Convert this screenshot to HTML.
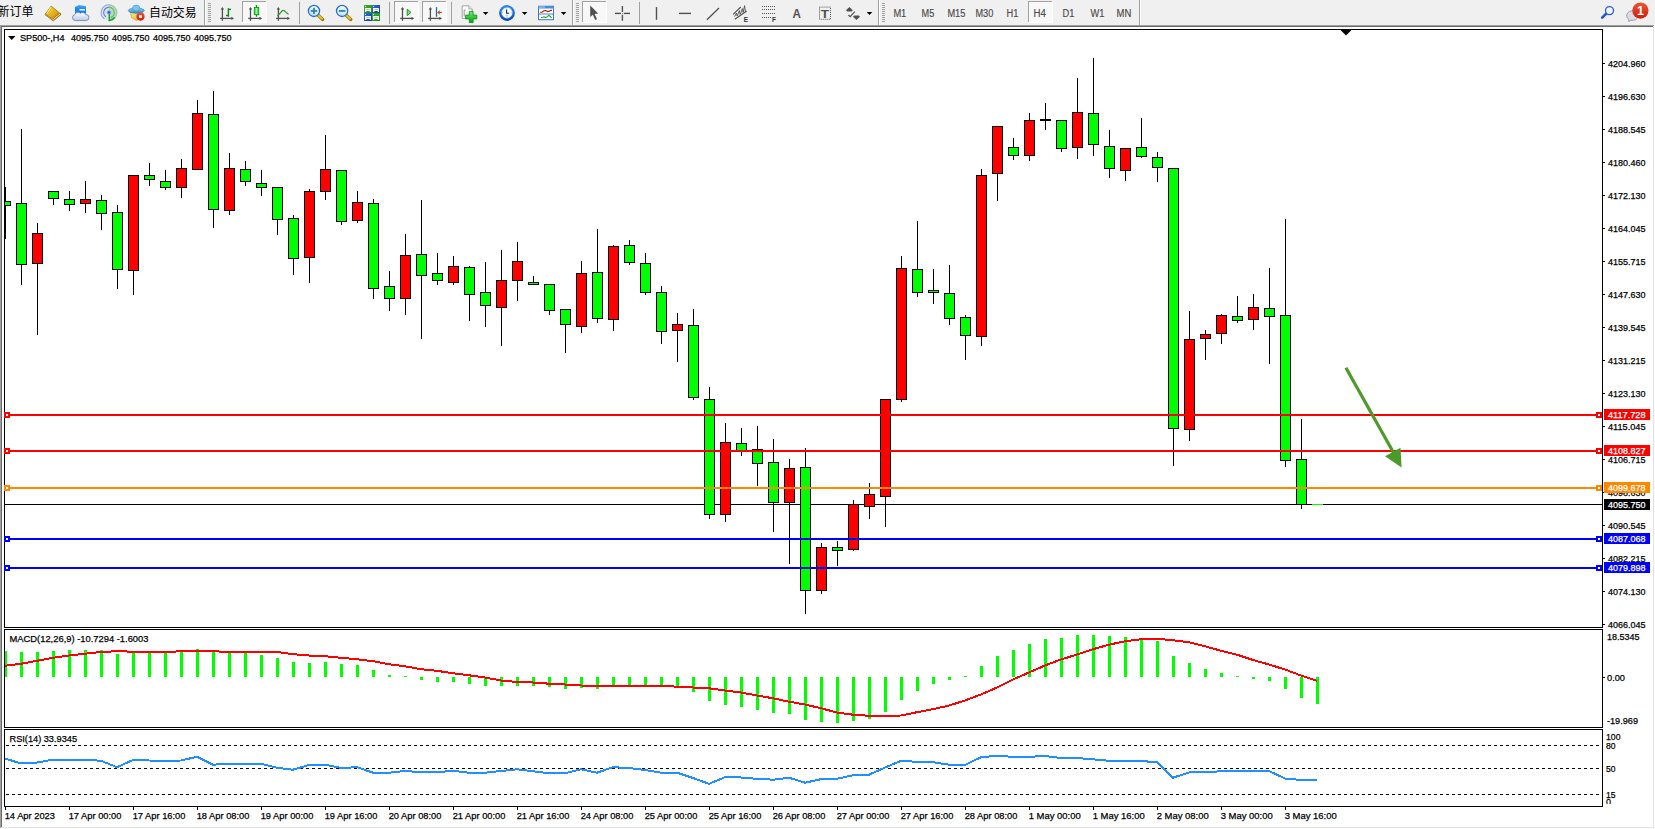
<!DOCTYPE html>
<html lang="zh"><head><meta charset="utf-8"><title>SP500-,H4</title>
<style>html,body{margin:0;padding:0;background:#fff;overflow:hidden}svg{display:block}text{font-family:'Liberation Sans','Noto Sans CJK SC',sans-serif;}</style></head><body>
<svg width="1655" height="829" viewBox="0 0 1655 829">
<rect x="0" y="0" width="1655" height="829" fill="#fff"/>
<rect x="0" y="0" width="1655" height="25" fill="#f0f0f0"/>
<g shape-rendering="crispEdges">
<rect x="0" y="25" width="1655" height="1" fill="#a0a0a0"/>
<rect x="0" y="25" width="1" height="804" fill="#a0a0a0"/>
<rect x="1" y="26" width="1653" height="1" fill="#696969"/>
<rect x="1" y="26" width="1" height="801" fill="#696969"/>
<rect x="1653" y="26" width="1" height="802" fill="#e3e3e3"/>
<rect x="1" y="827" width="1653" height="1" fill="#e3e3e3"/>
<rect x="1654" y="25" width="1" height="804" fill="#fff"/>
<rect x="0" y="828" width="1655" height="1" fill="#fff"/>
<rect x="4" y="29" width="1599" height="1" fill="#000"/>
<rect x="4" y="627" width="1599" height="1" fill="#000"/>
<rect x="4" y="29" width="1" height="599" fill="#000"/>
<rect x="1602" y="29" width="1" height="599" fill="#000"/>
<rect x="4" y="629" width="1599" height="1" fill="#000"/>
<rect x="4" y="727" width="1599" height="1" fill="#000"/>
<rect x="4" y="629" width="1" height="99" fill="#000"/>
<rect x="1602" y="629" width="1" height="99" fill="#000"/>
<rect x="4" y="729" width="1599" height="1" fill="#000"/>
<rect x="4" y="806" width="1599" height="1" fill="#000"/>
<rect x="4" y="729" width="1" height="78" fill="#000"/>
<rect x="1602" y="729" width="1" height="78" fill="#000"/>
</g>
<defs><clipPath id="cm"><rect x="5" y="30" width="1597" height="597"/></clipPath><clipPath id="cd"><rect x="5" y="630" width="1597" height="97"/></clipPath><clipPath id="cr"><rect x="5" y="730" width="1597" height="76"/></clipPath></defs>
<g shape-rendering="crispEdges" clip-path="url(#cm)">
<rect x="5" y="504" width="1597" height="1" fill="#000"/>
<rect x="5" y="187" width="1" height="52" fill="#000"/>
<rect x="0" y="201" width="11" height="5" fill="#000"/>
<rect x="1" y="202" width="9" height="3" fill="#00ff00"/>
<rect x="21" y="129" width="1" height="156" fill="#000"/>
<rect x="16" y="203" width="11" height="62" fill="#000"/>
<rect x="17" y="204" width="9" height="60" fill="#00ff00"/>
<rect x="37" y="223" width="1" height="112" fill="#000"/>
<rect x="32" y="233" width="11" height="31" fill="#000"/>
<rect x="33" y="234" width="9" height="29" fill="#ff0000"/>
<rect x="53" y="191" width="1" height="14" fill="#000"/>
<rect x="48" y="191" width="11" height="8" fill="#000"/>
<rect x="49" y="192" width="9" height="6" fill="#00ff00"/>
<rect x="69" y="191" width="1" height="20" fill="#000"/>
<rect x="64" y="199" width="11" height="6" fill="#000"/>
<rect x="65" y="200" width="9" height="4" fill="#00ff00"/>
<rect x="85" y="181" width="1" height="32" fill="#000"/>
<rect x="80" y="199" width="11" height="5" fill="#000"/>
<rect x="81" y="200" width="9" height="3" fill="#ff0000"/>
<rect x="101" y="195" width="1" height="35" fill="#000"/>
<rect x="96" y="200" width="11" height="14" fill="#000"/>
<rect x="97" y="201" width="9" height="12" fill="#00ff00"/>
<rect x="117" y="205" width="1" height="84" fill="#000"/>
<rect x="112" y="212" width="11" height="58" fill="#000"/>
<rect x="113" y="213" width="9" height="56" fill="#00ff00"/>
<rect x="133" y="175" width="1" height="120" fill="#000"/>
<rect x="128" y="175" width="11" height="96" fill="#000"/>
<rect x="129" y="176" width="9" height="94" fill="#ff0000"/>
<rect x="149" y="163" width="1" height="23" fill="#000"/>
<rect x="144" y="175" width="11" height="5" fill="#000"/>
<rect x="145" y="176" width="9" height="3" fill="#00ff00"/>
<rect x="165" y="170" width="1" height="20" fill="#000"/>
<rect x="160" y="181" width="11" height="7" fill="#000"/>
<rect x="161" y="182" width="9" height="5" fill="#00ff00"/>
<rect x="181" y="159" width="1" height="39" fill="#000"/>
<rect x="176" y="168" width="11" height="20" fill="#000"/>
<rect x="177" y="169" width="9" height="18" fill="#ff0000"/>
<rect x="197" y="100" width="1" height="70" fill="#000"/>
<rect x="192" y="113" width="11" height="57" fill="#000"/>
<rect x="193" y="114" width="9" height="55" fill="#ff0000"/>
<rect x="213" y="91" width="1" height="137" fill="#000"/>
<rect x="208" y="114" width="11" height="96" fill="#000"/>
<rect x="209" y="115" width="9" height="94" fill="#00ff00"/>
<rect x="229" y="153" width="1" height="62" fill="#000"/>
<rect x="224" y="168" width="11" height="43" fill="#000"/>
<rect x="225" y="169" width="9" height="41" fill="#ff0000"/>
<rect x="245" y="161" width="1" height="25" fill="#000"/>
<rect x="240" y="169" width="11" height="13" fill="#000"/>
<rect x="241" y="170" width="9" height="11" fill="#00ff00"/>
<rect x="261" y="170" width="1" height="26" fill="#000"/>
<rect x="256" y="183" width="11" height="5" fill="#000"/>
<rect x="257" y="184" width="9" height="3" fill="#00ff00"/>
<rect x="277" y="187" width="1" height="48" fill="#000"/>
<rect x="272" y="187" width="11" height="33" fill="#000"/>
<rect x="273" y="188" width="9" height="31" fill="#00ff00"/>
<rect x="293" y="215" width="1" height="60" fill="#000"/>
<rect x="288" y="218" width="11" height="41" fill="#000"/>
<rect x="289" y="219" width="9" height="39" fill="#00ff00"/>
<rect x="309" y="189" width="1" height="94" fill="#000"/>
<rect x="304" y="191" width="11" height="67" fill="#000"/>
<rect x="305" y="192" width="9" height="65" fill="#ff0000"/>
<rect x="325" y="135" width="1" height="65" fill="#000"/>
<rect x="320" y="169" width="11" height="23" fill="#000"/>
<rect x="321" y="170" width="9" height="21" fill="#ff0000"/>
<rect x="341" y="170" width="1" height="55" fill="#000"/>
<rect x="336" y="170" width="11" height="52" fill="#000"/>
<rect x="337" y="171" width="9" height="50" fill="#00ff00"/>
<rect x="357" y="191" width="1" height="32" fill="#000"/>
<rect x="352" y="202" width="11" height="19" fill="#000"/>
<rect x="353" y="203" width="9" height="17" fill="#ff0000"/>
<rect x="373" y="199" width="1" height="100" fill="#000"/>
<rect x="368" y="203" width="11" height="86" fill="#000"/>
<rect x="369" y="204" width="9" height="84" fill="#00ff00"/>
<rect x="389" y="271" width="1" height="40" fill="#000"/>
<rect x="384" y="286" width="11" height="13" fill="#000"/>
<rect x="385" y="287" width="9" height="11" fill="#00ff00"/>
<rect x="405" y="234" width="1" height="81" fill="#000"/>
<rect x="400" y="255" width="11" height="44" fill="#000"/>
<rect x="401" y="256" width="9" height="42" fill="#ff0000"/>
<rect x="421" y="200" width="1" height="139" fill="#000"/>
<rect x="416" y="254" width="11" height="22" fill="#000"/>
<rect x="417" y="255" width="9" height="20" fill="#00ff00"/>
<rect x="437" y="253" width="1" height="32" fill="#000"/>
<rect x="432" y="273" width="11" height="8" fill="#000"/>
<rect x="433" y="274" width="9" height="6" fill="#00ff00"/>
<rect x="453" y="256" width="1" height="29" fill="#000"/>
<rect x="448" y="266" width="11" height="17" fill="#000"/>
<rect x="449" y="267" width="9" height="15" fill="#ff0000"/>
<rect x="469" y="266" width="1" height="55" fill="#000"/>
<rect x="464" y="267" width="11" height="28" fill="#000"/>
<rect x="465" y="268" width="9" height="26" fill="#00ff00"/>
<rect x="485" y="262" width="1" height="65" fill="#000"/>
<rect x="480" y="292" width="11" height="14" fill="#000"/>
<rect x="481" y="293" width="9" height="12" fill="#00ff00"/>
<rect x="501" y="250" width="1" height="96" fill="#000"/>
<rect x="496" y="280" width="11" height="28" fill="#000"/>
<rect x="497" y="281" width="9" height="26" fill="#ff0000"/>
<rect x="517" y="242" width="1" height="59" fill="#000"/>
<rect x="512" y="261" width="11" height="20" fill="#000"/>
<rect x="513" y="262" width="9" height="18" fill="#ff0000"/>
<rect x="533" y="276" width="1" height="9" fill="#000"/>
<rect x="528" y="282" width="11" height="3" fill="#000"/>
<rect x="529" y="283" width="9" height="1" fill="#00ff00"/>
<rect x="549" y="284" width="1" height="31" fill="#000"/>
<rect x="544" y="284" width="11" height="27" fill="#000"/>
<rect x="545" y="285" width="9" height="25" fill="#00ff00"/>
<rect x="565" y="309" width="1" height="44" fill="#000"/>
<rect x="560" y="309" width="11" height="16" fill="#000"/>
<rect x="561" y="310" width="9" height="14" fill="#00ff00"/>
<rect x="581" y="261" width="1" height="72" fill="#000"/>
<rect x="576" y="273" width="11" height="54" fill="#000"/>
<rect x="577" y="274" width="9" height="52" fill="#ff0000"/>
<rect x="597" y="229" width="1" height="94" fill="#000"/>
<rect x="592" y="272" width="11" height="47" fill="#000"/>
<rect x="593" y="273" width="9" height="45" fill="#00ff00"/>
<rect x="613" y="245" width="1" height="86" fill="#000"/>
<rect x="608" y="246" width="11" height="74" fill="#000"/>
<rect x="609" y="247" width="9" height="72" fill="#ff0000"/>
<rect x="629" y="240" width="1" height="25" fill="#000"/>
<rect x="624" y="245" width="11" height="18" fill="#000"/>
<rect x="625" y="246" width="9" height="16" fill="#00ff00"/>
<rect x="645" y="253" width="1" height="42" fill="#000"/>
<rect x="640" y="263" width="11" height="30" fill="#000"/>
<rect x="641" y="264" width="9" height="28" fill="#00ff00"/>
<rect x="661" y="286" width="1" height="58" fill="#000"/>
<rect x="656" y="292" width="11" height="40" fill="#000"/>
<rect x="657" y="293" width="9" height="38" fill="#00ff00"/>
<rect x="677" y="313" width="1" height="49" fill="#000"/>
<rect x="672" y="324" width="11" height="7" fill="#000"/>
<rect x="673" y="325" width="9" height="5" fill="#ff0000"/>
<rect x="693" y="309" width="1" height="91" fill="#000"/>
<rect x="688" y="325" width="11" height="73" fill="#000"/>
<rect x="689" y="326" width="9" height="71" fill="#00ff00"/>
<rect x="709" y="387" width="1" height="132" fill="#000"/>
<rect x="704" y="399" width="11" height="116" fill="#000"/>
<rect x="705" y="400" width="9" height="114" fill="#00ff00"/>
<rect x="725" y="423" width="1" height="99" fill="#000"/>
<rect x="720" y="442" width="11" height="73" fill="#000"/>
<rect x="721" y="443" width="9" height="71" fill="#ff0000"/>
<rect x="741" y="428" width="1" height="28" fill="#000"/>
<rect x="736" y="443" width="11" height="9" fill="#000"/>
<rect x="737" y="444" width="9" height="7" fill="#00ff00"/>
<rect x="757" y="426" width="1" height="60" fill="#000"/>
<rect x="752" y="449" width="11" height="15" fill="#000"/>
<rect x="753" y="450" width="9" height="13" fill="#00ff00"/>
<rect x="773" y="439" width="1" height="93" fill="#000"/>
<rect x="768" y="462" width="11" height="41" fill="#000"/>
<rect x="769" y="463" width="9" height="39" fill="#00ff00"/>
<rect x="789" y="459" width="1" height="105" fill="#000"/>
<rect x="784" y="468" width="11" height="35" fill="#000"/>
<rect x="785" y="469" width="9" height="33" fill="#ff0000"/>
<rect x="805" y="448" width="1" height="166" fill="#000"/>
<rect x="800" y="467" width="11" height="124" fill="#000"/>
<rect x="801" y="468" width="9" height="122" fill="#00ff00"/>
<rect x="821" y="543" width="1" height="51" fill="#000"/>
<rect x="816" y="547" width="11" height="44" fill="#000"/>
<rect x="817" y="548" width="9" height="42" fill="#ff0000"/>
<rect x="837" y="541" width="1" height="25" fill="#000"/>
<rect x="832" y="547" width="11" height="4" fill="#000"/>
<rect x="833" y="548" width="9" height="2" fill="#00ff00"/>
<rect x="853" y="500" width="1" height="51" fill="#000"/>
<rect x="848" y="504" width="11" height="46" fill="#000"/>
<rect x="849" y="505" width="9" height="44" fill="#ff0000"/>
<rect x="869" y="483" width="1" height="36" fill="#000"/>
<rect x="864" y="494" width="11" height="13" fill="#000"/>
<rect x="865" y="495" width="9" height="11" fill="#ff0000"/>
<rect x="885" y="399" width="1" height="128" fill="#000"/>
<rect x="880" y="399" width="11" height="98" fill="#000"/>
<rect x="881" y="400" width="9" height="96" fill="#ff0000"/>
<rect x="901" y="256" width="1" height="146" fill="#000"/>
<rect x="896" y="268" width="11" height="132" fill="#000"/>
<rect x="897" y="269" width="9" height="130" fill="#ff0000"/>
<rect x="917" y="221" width="1" height="76" fill="#000"/>
<rect x="912" y="269" width="11" height="24" fill="#000"/>
<rect x="913" y="270" width="9" height="22" fill="#00ff00"/>
<rect x="933" y="269" width="1" height="35" fill="#000"/>
<rect x="928" y="290" width="11" height="3" fill="#000"/>
<rect x="929" y="291" width="9" height="1" fill="#00ff00"/>
<rect x="949" y="265" width="1" height="60" fill="#000"/>
<rect x="944" y="293" width="11" height="26" fill="#000"/>
<rect x="945" y="294" width="9" height="24" fill="#00ff00"/>
<rect x="965" y="315" width="1" height="45" fill="#000"/>
<rect x="960" y="317" width="11" height="19" fill="#000"/>
<rect x="961" y="318" width="9" height="17" fill="#00ff00"/>
<rect x="981" y="169" width="1" height="177" fill="#000"/>
<rect x="976" y="175" width="11" height="162" fill="#000"/>
<rect x="977" y="176" width="9" height="160" fill="#ff0000"/>
<rect x="997" y="126" width="1" height="75" fill="#000"/>
<rect x="992" y="126" width="11" height="48" fill="#000"/>
<rect x="993" y="127" width="9" height="46" fill="#ff0000"/>
<rect x="1013" y="138" width="1" height="22" fill="#000"/>
<rect x="1008" y="147" width="11" height="9" fill="#000"/>
<rect x="1009" y="148" width="9" height="7" fill="#00ff00"/>
<rect x="1029" y="113" width="1" height="48" fill="#000"/>
<rect x="1024" y="120" width="11" height="36" fill="#000"/>
<rect x="1025" y="121" width="9" height="34" fill="#ff0000"/>
<rect x="1045" y="103" width="1" height="27" fill="#000"/>
<rect x="1040" y="119" width="11" height="2" fill="#000"/>
<rect x="1061" y="120" width="1" height="32" fill="#000"/>
<rect x="1056" y="120" width="11" height="29" fill="#000"/>
<rect x="1057" y="121" width="9" height="27" fill="#00ff00"/>
<rect x="1077" y="78" width="1" height="81" fill="#000"/>
<rect x="1072" y="112" width="11" height="36" fill="#000"/>
<rect x="1073" y="113" width="9" height="34" fill="#ff0000"/>
<rect x="1093" y="58" width="1" height="98" fill="#000"/>
<rect x="1088" y="113" width="11" height="32" fill="#000"/>
<rect x="1089" y="114" width="9" height="30" fill="#00ff00"/>
<rect x="1109" y="130" width="1" height="48" fill="#000"/>
<rect x="1104" y="146" width="11" height="23" fill="#000"/>
<rect x="1105" y="147" width="9" height="21" fill="#00ff00"/>
<rect x="1125" y="148" width="1" height="33" fill="#000"/>
<rect x="1120" y="148" width="11" height="23" fill="#000"/>
<rect x="1121" y="149" width="9" height="21" fill="#ff0000"/>
<rect x="1141" y="118" width="1" height="40" fill="#000"/>
<rect x="1136" y="147" width="11" height="10" fill="#000"/>
<rect x="1137" y="148" width="9" height="8" fill="#00ff00"/>
<rect x="1157" y="152" width="1" height="30" fill="#000"/>
<rect x="1152" y="157" width="11" height="11" fill="#000"/>
<rect x="1153" y="158" width="9" height="9" fill="#00ff00"/>
<rect x="1173" y="168" width="1" height="298" fill="#000"/>
<rect x="1168" y="168" width="11" height="261" fill="#000"/>
<rect x="1169" y="169" width="9" height="259" fill="#00ff00"/>
<rect x="1189" y="311" width="1" height="130" fill="#000"/>
<rect x="1184" y="339" width="11" height="91" fill="#000"/>
<rect x="1185" y="340" width="9" height="89" fill="#ff0000"/>
<rect x="1205" y="330" width="1" height="30" fill="#000"/>
<rect x="1200" y="334" width="11" height="5" fill="#000"/>
<rect x="1201" y="335" width="9" height="3" fill="#ff0000"/>
<rect x="1221" y="314" width="1" height="30" fill="#000"/>
<rect x="1216" y="315" width="11" height="19" fill="#000"/>
<rect x="1217" y="316" width="9" height="17" fill="#ff0000"/>
<rect x="1237" y="296" width="1" height="27" fill="#000"/>
<rect x="1232" y="316" width="11" height="5" fill="#000"/>
<rect x="1233" y="317" width="9" height="3" fill="#00ff00"/>
<rect x="1253" y="294" width="1" height="36" fill="#000"/>
<rect x="1248" y="307" width="11" height="13" fill="#000"/>
<rect x="1249" y="308" width="9" height="11" fill="#ff0000"/>
<rect x="1269" y="268" width="1" height="96" fill="#000"/>
<rect x="1264" y="308" width="11" height="9" fill="#000"/>
<rect x="1265" y="309" width="9" height="7" fill="#00ff00"/>
<rect x="1285" y="219" width="1" height="248" fill="#000"/>
<rect x="1280" y="315" width="11" height="146" fill="#000"/>
<rect x="1281" y="316" width="9" height="144" fill="#00ff00"/>
<rect x="1301" y="419" width="1" height="90" fill="#000"/>
<rect x="1296" y="459" width="11" height="46" fill="#000"/>
<rect x="1297" y="460" width="9" height="44" fill="#00ff00"/>
<rect x="1312" y="504" width="11" height="1" fill="#00ff00"/>
<rect x="5" y="414" width="1597" height="2" fill="#ff0000"/>
<rect x="5" y="450" width="1597" height="2" fill="#ff0000"/>
<rect x="5" y="487" width="1597" height="2" fill="#ff8800"/>
<rect x="5" y="538" width="1597" height="2" fill="#0000ff"/>
<rect x="5" y="567" width="1597" height="2" fill="#0000ff"/>
</g>
<g shape-rendering="crispEdges">
<rect x="4" y="412" width="6" height="6" fill="#ff0000"/>
<rect x="6" y="414" width="2" height="2" fill="#fff"/>
<rect x="1596" y="412" width="6" height="6" fill="#ff0000"/>
<rect x="1598" y="414" width="2" height="2" fill="#fff"/>
<rect x="4" y="448" width="6" height="6" fill="#ff0000"/>
<rect x="6" y="450" width="2" height="2" fill="#fff"/>
<rect x="1596" y="448" width="6" height="6" fill="#ff0000"/>
<rect x="1598" y="450" width="2" height="2" fill="#fff"/>
<rect x="4" y="485" width="6" height="6" fill="#ff8800"/>
<rect x="6" y="487" width="2" height="2" fill="#fff"/>
<rect x="1596" y="485" width="6" height="6" fill="#ff8800"/>
<rect x="1598" y="487" width="2" height="2" fill="#fff"/>
<rect x="4" y="536" width="6" height="6" fill="#0000ff"/>
<rect x="6" y="538" width="2" height="2" fill="#fff"/>
<rect x="1596" y="536" width="6" height="6" fill="#0000ff"/>
<rect x="1598" y="538" width="2" height="2" fill="#fff"/>
<rect x="4" y="565" width="6" height="6" fill="#0000ff"/>
<rect x="6" y="567" width="2" height="2" fill="#fff"/>
<rect x="1596" y="565" width="6" height="6" fill="#0000ff"/>
<rect x="1598" y="567" width="2" height="2" fill="#fff"/>
<polygon points="1340.5,30 1351.5,30 1346,35.5" fill="#000" shape-rendering="geometricPrecision"/>
<rect x="1603" y="63" width="2" height="1" fill="#000"/>
<rect x="1603" y="96" width="2" height="1" fill="#000"/>
<rect x="1603" y="129" width="2" height="1" fill="#000"/>
<rect x="1603" y="162" width="2" height="1" fill="#000"/>
<rect x="1603" y="195" width="2" height="1" fill="#000"/>
<rect x="1603" y="228" width="2" height="1" fill="#000"/>
<rect x="1603" y="261" width="2" height="1" fill="#000"/>
<rect x="1603" y="294" width="2" height="1" fill="#000"/>
<rect x="1603" y="327" width="2" height="1" fill="#000"/>
<rect x="1603" y="360" width="2" height="1" fill="#000"/>
<rect x="1603" y="393" width="2" height="1" fill="#000"/>
<rect x="1603" y="426" width="2" height="1" fill="#000"/>
<rect x="1603" y="459" width="2" height="1" fill="#000"/>
<rect x="1603" y="492" width="2" height="1" fill="#000"/>
<rect x="1603" y="525" width="2" height="1" fill="#000"/>
<rect x="1603" y="558" width="2" height="1" fill="#000"/>
<rect x="1603" y="591" width="2" height="1" fill="#000"/>
<rect x="1603" y="624" width="2" height="1" fill="#000"/>
</g>
<text x="1608" y="67" font-size="9.5" fill="#000" stroke="#000" stroke-width="0.25" textLength="37.5" lengthAdjust="spacingAndGlyphs">4204.960</text>
<text x="1608" y="100" font-size="9.5" fill="#000" stroke="#000" stroke-width="0.25" textLength="37.5" lengthAdjust="spacingAndGlyphs">4196.630</text>
<text x="1608" y="133" font-size="9.5" fill="#000" stroke="#000" stroke-width="0.25" textLength="37.5" lengthAdjust="spacingAndGlyphs">4188.545</text>
<text x="1608" y="166" font-size="9.5" fill="#000" stroke="#000" stroke-width="0.25" textLength="37.5" lengthAdjust="spacingAndGlyphs">4180.460</text>
<text x="1608" y="199" font-size="9.5" fill="#000" stroke="#000" stroke-width="0.25" textLength="37.5" lengthAdjust="spacingAndGlyphs">4172.130</text>
<text x="1608" y="232" font-size="9.5" fill="#000" stroke="#000" stroke-width="0.25" textLength="37.5" lengthAdjust="spacingAndGlyphs">4164.045</text>
<text x="1608" y="265" font-size="9.5" fill="#000" stroke="#000" stroke-width="0.25" textLength="37.5" lengthAdjust="spacingAndGlyphs">4155.715</text>
<text x="1608" y="298" font-size="9.5" fill="#000" stroke="#000" stroke-width="0.25" textLength="37.5" lengthAdjust="spacingAndGlyphs">4147.630</text>
<text x="1608" y="331" font-size="9.5" fill="#000" stroke="#000" stroke-width="0.25" textLength="37.5" lengthAdjust="spacingAndGlyphs">4139.545</text>
<text x="1608" y="364" font-size="9.5" fill="#000" stroke="#000" stroke-width="0.25" textLength="37.5" lengthAdjust="spacingAndGlyphs">4131.215</text>
<text x="1608" y="397" font-size="9.5" fill="#000" stroke="#000" stroke-width="0.25" textLength="37.5" lengthAdjust="spacingAndGlyphs">4123.130</text>
<text x="1608" y="430" font-size="9.5" fill="#000" stroke="#000" stroke-width="0.25" textLength="37.5" lengthAdjust="spacingAndGlyphs">4115.045</text>
<text x="1608" y="463" font-size="9.5" fill="#000" stroke="#000" stroke-width="0.25" textLength="37.5" lengthAdjust="spacingAndGlyphs">4106.715</text>
<text x="1608" y="496" font-size="9.5" fill="#000" stroke="#000" stroke-width="0.25" textLength="37.5" lengthAdjust="spacingAndGlyphs">4098.630</text>
<text x="1608" y="529" font-size="9.5" fill="#000" stroke="#000" stroke-width="0.25" textLength="37.5" lengthAdjust="spacingAndGlyphs">4090.545</text>
<text x="1608" y="562" font-size="9.5" fill="#000" stroke="#000" stroke-width="0.25" textLength="37.5" lengthAdjust="spacingAndGlyphs">4082.215</text>
<text x="1608" y="595" font-size="9.5" fill="#000" stroke="#000" stroke-width="0.25" textLength="37.5" lengthAdjust="spacingAndGlyphs">4074.130</text>
<text x="1608" y="628" font-size="9.5" fill="#000" stroke="#000" stroke-width="0.25" textLength="37.5" lengthAdjust="spacingAndGlyphs">4066.045</text>
<g shape-rendering="crispEdges">
<rect x="1604" y="409" width="46" height="11" fill="#ff0000"/>
<rect x="1604" y="445" width="46" height="11" fill="#ff0000"/>
<rect x="1604" y="482" width="46" height="11" fill="#ff8800"/>
<rect x="1604" y="533" width="46" height="11" fill="#0000ff"/>
<rect x="1604" y="562" width="46" height="11" fill="#0000ff"/>
<rect x="1604" y="499" width="46" height="11" fill="#000"/>
</g>
<text x="1608" y="418" font-size="9.5" fill="#fff" stroke="#fff" stroke-width="0.25" textLength="37.5" lengthAdjust="spacingAndGlyphs">4117.728</text>
<text x="1608" y="454" font-size="9.5" fill="#fff" stroke="#fff" stroke-width="0.25" textLength="37.5" lengthAdjust="spacingAndGlyphs">4108.827</text>
<text x="1608" y="491" font-size="9.5" fill="#fff" stroke="#fff" stroke-width="0.25" textLength="37.5" lengthAdjust="spacingAndGlyphs">4099.678</text>
<text x="1608" y="542" font-size="9.5" fill="#fff" stroke="#fff" stroke-width="0.25" textLength="37.5" lengthAdjust="spacingAndGlyphs">4087.068</text>
<text x="1608" y="571" font-size="9.5" fill="#fff" stroke="#fff" stroke-width="0.25" textLength="37.5" lengthAdjust="spacingAndGlyphs">4079.898</text>
<text x="1608" y="508" font-size="9.5" fill="#fff" stroke="#fff" stroke-width="0.25" textLength="37.5" lengthAdjust="spacingAndGlyphs">4095.750</text>
<polygon points="8,36 15.5,36 11.75,40" fill="#000"/>
<text x="20" y="40.6" font-size="9.5" fill="#000" stroke="#000" stroke-width="0.25" textLength="44.5" lengthAdjust="spacingAndGlyphs">SP500-,H4</text>
<text x="71" y="40.6" font-size="9.5" fill="#000" stroke="#000" stroke-width="0.25" textLength="37.5" lengthAdjust="spacingAndGlyphs">4095.750</text>
<text x="112" y="40.6" font-size="9.5" fill="#000" stroke="#000" stroke-width="0.25" textLength="37.5" lengthAdjust="spacingAndGlyphs">4095.750</text>
<text x="153" y="40.6" font-size="9.5" fill="#000" stroke="#000" stroke-width="0.25" textLength="37.5" lengthAdjust="spacingAndGlyphs">4095.750</text>
<text x="194" y="40.6" font-size="9.5" fill="#000" stroke="#000" stroke-width="0.25" textLength="37.5" lengthAdjust="spacingAndGlyphs">4095.750</text>
<g fill="#4c9a2a" stroke="none">
<line x1="1345.9" y1="367.7" x2="1394" y2="453.5" stroke="#4c9a2a" stroke-width="3.2"/>
<polygon points="1401.6,467.6 1385,456.3 1400.5,447.8"/>
</g>
<g shape-rendering="crispEdges" clip-path="url(#cd)">
<rect x="4" y="651" width="3" height="26" fill="#00ff00"/>
<rect x="20" y="652" width="3" height="25" fill="#00ff00"/>
<rect x="36" y="652" width="3" height="25" fill="#00ff00"/>
<rect x="52" y="651" width="3" height="26" fill="#00ff00"/>
<rect x="68" y="650" width="3" height="27" fill="#00ff00"/>
<rect x="84" y="650" width="3" height="27" fill="#00ff00"/>
<rect x="100" y="650" width="3" height="27" fill="#00ff00"/>
<rect x="116" y="654" width="3" height="23" fill="#00ff00"/>
<rect x="132" y="653" width="3" height="24" fill="#00ff00"/>
<rect x="148" y="653" width="3" height="24" fill="#00ff00"/>
<rect x="164" y="653" width="3" height="24" fill="#00ff00"/>
<rect x="180" y="652" width="3" height="25" fill="#00ff00"/>
<rect x="196" y="649" width="3" height="28" fill="#00ff00"/>
<rect x="212" y="652" width="3" height="25" fill="#00ff00"/>
<rect x="228" y="653" width="3" height="24" fill="#00ff00"/>
<rect x="244" y="653" width="3" height="24" fill="#00ff00"/>
<rect x="260" y="655" width="3" height="22" fill="#00ff00"/>
<rect x="276" y="658" width="3" height="19" fill="#00ff00"/>
<rect x="292" y="662" width="3" height="15" fill="#00ff00"/>
<rect x="308" y="663" width="3" height="14" fill="#00ff00"/>
<rect x="324" y="662" width="3" height="15" fill="#00ff00"/>
<rect x="340" y="664" width="3" height="13" fill="#00ff00"/>
<rect x="356" y="665" width="3" height="12" fill="#00ff00"/>
<rect x="372" y="670" width="3" height="7" fill="#00ff00"/>
<rect x="388" y="675" width="3" height="2" fill="#00ff00"/>
<rect x="404" y="676" width="3" height="1" fill="#00ff00"/>
<rect x="420" y="677" width="3" height="3" fill="#00ff00"/>
<rect x="436" y="677" width="3" height="5" fill="#00ff00"/>
<rect x="452" y="677" width="3" height="5" fill="#00ff00"/>
<rect x="468" y="677" width="3" height="7" fill="#00ff00"/>
<rect x="484" y="677" width="3" height="9" fill="#00ff00"/>
<rect x="500" y="677" width="3" height="9" fill="#00ff00"/>
<rect x="516" y="677" width="3" height="9" fill="#00ff00"/>
<rect x="532" y="677" width="3" height="9" fill="#00ff00"/>
<rect x="548" y="677" width="3" height="10" fill="#00ff00"/>
<rect x="564" y="677" width="3" height="12" fill="#00ff00"/>
<rect x="580" y="677" width="3" height="11" fill="#00ff00"/>
<rect x="596" y="677" width="3" height="12" fill="#00ff00"/>
<rect x="612" y="677" width="3" height="10" fill="#00ff00"/>
<rect x="628" y="677" width="3" height="9" fill="#00ff00"/>
<rect x="644" y="677" width="3" height="9" fill="#00ff00"/>
<rect x="660" y="677" width="3" height="9" fill="#00ff00"/>
<rect x="676" y="677" width="3" height="11" fill="#00ff00"/>
<rect x="692" y="677" width="3" height="15" fill="#00ff00"/>
<rect x="708" y="677" width="3" height="24" fill="#00ff00"/>
<rect x="724" y="677" width="3" height="28" fill="#00ff00"/>
<rect x="740" y="677" width="3" height="30" fill="#00ff00"/>
<rect x="756" y="677" width="3" height="33" fill="#00ff00"/>
<rect x="772" y="677" width="3" height="36" fill="#00ff00"/>
<rect x="788" y="677" width="3" height="37" fill="#00ff00"/>
<rect x="804" y="677" width="3" height="43" fill="#00ff00"/>
<rect x="820" y="677" width="3" height="45" fill="#00ff00"/>
<rect x="836" y="677" width="3" height="46" fill="#00ff00"/>
<rect x="852" y="677" width="3" height="44" fill="#00ff00"/>
<rect x="868" y="677" width="3" height="42" fill="#00ff00"/>
<rect x="884" y="677" width="3" height="35" fill="#00ff00"/>
<rect x="900" y="677" width="3" height="23" fill="#00ff00"/>
<rect x="916" y="677" width="3" height="14" fill="#00ff00"/>
<rect x="932" y="677" width="3" height="7" fill="#00ff00"/>
<rect x="948" y="677" width="3" height="3" fill="#00ff00"/>
<rect x="964" y="676" width="3" height="1" fill="#00ff00"/>
<rect x="980" y="666" width="3" height="11" fill="#00ff00"/>
<rect x="996" y="656" width="3" height="21" fill="#00ff00"/>
<rect x="1012" y="650" width="3" height="27" fill="#00ff00"/>
<rect x="1028" y="644" width="3" height="33" fill="#00ff00"/>
<rect x="1044" y="639" width="3" height="38" fill="#00ff00"/>
<rect x="1060" y="638" width="3" height="39" fill="#00ff00"/>
<rect x="1076" y="635" width="3" height="42" fill="#00ff00"/>
<rect x="1092" y="635" width="3" height="42" fill="#00ff00"/>
<rect x="1108" y="636" width="3" height="41" fill="#00ff00"/>
<rect x="1124" y="637" width="3" height="40" fill="#00ff00"/>
<rect x="1140" y="639" width="3" height="38" fill="#00ff00"/>
<rect x="1156" y="641" width="3" height="36" fill="#00ff00"/>
<rect x="1172" y="656" width="3" height="21" fill="#00ff00"/>
<rect x="1188" y="663" width="3" height="14" fill="#00ff00"/>
<rect x="1204" y="669" width="3" height="8" fill="#00ff00"/>
<rect x="1220" y="673" width="3" height="4" fill="#00ff00"/>
<rect x="1236" y="676" width="3" height="1" fill="#00ff00"/>
<rect x="1252" y="677" width="3" height="2" fill="#00ff00"/>
<rect x="1268" y="677" width="3" height="4" fill="#00ff00"/>
<rect x="1284" y="677" width="3" height="12" fill="#00ff00"/>
<rect x="1300" y="677" width="3" height="21" fill="#00ff00"/>
<rect x="1316" y="677" width="3" height="27" fill="#00ff00"/>
<polyline points="5,665.8 21,663.8 37,660.8 53,657.8 69,655.5 85,653.7 101,652 117,651.2 133,651.7 149,652 165,652 181,651.3 197,650.8 213,651.2 229,652 245,652 261,652 277,652 293,654.2 309,655.5 325,656.2 341,657.8 357,659.2 373,661.2 389,664.2 405,666.3 421,669.2 437,670.8 453,673.3 469,675.3 485,677.5 501,680.5 517,682 533,682.5 549,683.7 565,684.5 581,685.5 597,685.8 613,685.8 629,685.8 645,685.8 661,685.8 677,686.7 693,687.5 709,688.3 725,690.5 741,692.5 757,695.5 773,698.3 789,701.7 805,704.5 821,708.3 837,712.5 853,714.7 869,715.8 885,715.8 901,715.5 917,712.2 933,709.2 949,705.5 965,700.5 981,694.5 997,687.5 1013,679.5 1029,672.5 1045,665.5 1061,659.5 1077,654.5 1093,649.2 1109,644.7 1125,641.3 1141,639.2 1157,638.8 1173,640.3 1189,642.2 1205,646.3 1221,650.8 1237,654.7 1253,660 1269,664.5 1285,669.5 1301,675.5 1317,680.8" fill="none" stroke="#ff0000" stroke-width="2" stroke-linejoin="round"/>
</g>
<text x="9.5" y="642" font-size="9.5" fill="#000" stroke="#000" stroke-width="0.25" textLength="139" lengthAdjust="spacingAndGlyphs">MACD(12,26,9) -10.7294 -1.6003</text>
<g shape-rendering="crispEdges">
<rect x="1603" y="677" width="2" height="1" fill="#000"/>
</g>
<text x="1607" y="640" font-size="9.5" fill="#000" stroke="#000" stroke-width="0.25" textLength="32.5" lengthAdjust="spacingAndGlyphs">18.5345</text>
<text x="1607" y="681" font-size="9.5" fill="#000" stroke="#000" stroke-width="0.25" textLength="18" lengthAdjust="spacingAndGlyphs">0.00</text>
<text x="1607" y="724" font-size="9.5" fill="#000" stroke="#000" stroke-width="0.25" textLength="31" lengthAdjust="spacingAndGlyphs">-19.969</text>
<g shape-rendering="crispEdges" clip-path="url(#cr)">
<line x1="6" y1="745.5" x2="1602" y2="745.5" stroke="#000" stroke-width="1" stroke-dasharray="3 3"/>
<line x1="6" y1="768.5" x2="1602" y2="768.5" stroke="#000" stroke-width="1" stroke-dasharray="3 3"/>
<line x1="6" y1="794.5" x2="1602" y2="794.5" stroke="#000" stroke-width="1" stroke-dasharray="3 3"/>
<polyline points="5,758.5 21,763.5 37,762.5 53,759.7 69,759.7 85,759.7 101,760.8 117,767.2 133,760 149,760.5 165,760.8 181,760.5 197,756.8 213,764.7 229,763.8 245,763.8 261,763.8 277,767.7 293,769.7 309,765 325,764.7 341,768 357,767.2 373,772.7 389,772.7 405,771 421,772.2 437,772.2 453,770.8 469,772.7 485,772.7 501,771 517,769.3 533,771.3 549,773.3 565,773.3 581,769.3 597,772.7 613,767.2 629,768 645,770 661,772.7 677,772.7 693,778 709,783.8 725,777.2 741,777.5 757,778.8 773,779.7 789,777.7 805,782.7 821,779.2 837,778.8 853,775.2 869,774.7 885,767.5 901,760.8 917,761.8 933,762.2 949,764.7 965,765 981,757.2 997,755.8 1013,756.8 1029,756.8 1045,756 1061,758 1077,758 1093,759.3 1109,760.8 1125,760.8 1141,761.3 1157,761.8 1173,777.7 1189,772.5 1205,772.2 1221,771.3 1237,771 1253,771 1269,771 1285,778.5 1301,780 1317,780" fill="none" stroke="#1e90ff" stroke-width="2" stroke-linejoin="round"/>
</g>
<text x="9.5" y="742" font-size="9.5" fill="#000" stroke="#000" stroke-width="0.25" textLength="67.5" lengthAdjust="spacingAndGlyphs">RSI(14) 33.9345</text>
<text x="1606" y="740" font-size="9.5" fill="#000" stroke="#000" stroke-width="0.25" textLength="14.5" lengthAdjust="spacingAndGlyphs">100</text>
<text x="1606" y="749" font-size="9.5" fill="#000" stroke="#000" stroke-width="0.25" textLength="9.5" lengthAdjust="spacingAndGlyphs">80</text>
<text x="1606" y="772" font-size="9.5" fill="#000" stroke="#000" stroke-width="0.25" textLength="9.5" lengthAdjust="spacingAndGlyphs">50</text>
<text x="1606" y="798" font-size="9.5" fill="#000" stroke="#000" stroke-width="0.25" textLength="9.5" lengthAdjust="spacingAndGlyphs">15</text>
<g clip-path="url(#clz)"><defs><clipPath id="clz"><rect x="1603" y="798" width="40" height="6"/></clipPath></defs>
<text x="1606" y="805" font-size="9.5" fill="#000" stroke="#000" stroke-width="0.25" textLength="5" lengthAdjust="spacingAndGlyphs">0</text>
</g>
<g shape-rendering="crispEdges">
<rect x="5" y="807" width="1" height="3" fill="#000"/>
<rect x="69" y="807" width="1" height="3" fill="#000"/>
<rect x="133" y="807" width="1" height="3" fill="#000"/>
<rect x="197" y="807" width="1" height="3" fill="#000"/>
<rect x="261" y="807" width="1" height="3" fill="#000"/>
<rect x="325" y="807" width="1" height="3" fill="#000"/>
<rect x="389" y="807" width="1" height="3" fill="#000"/>
<rect x="453" y="807" width="1" height="3" fill="#000"/>
<rect x="517" y="807" width="1" height="3" fill="#000"/>
<rect x="581" y="807" width="1" height="3" fill="#000"/>
<rect x="645" y="807" width="1" height="3" fill="#000"/>
<rect x="709" y="807" width="1" height="3" fill="#000"/>
<rect x="773" y="807" width="1" height="3" fill="#000"/>
<rect x="837" y="807" width="1" height="3" fill="#000"/>
<rect x="901" y="807" width="1" height="3" fill="#000"/>
<rect x="965" y="807" width="1" height="3" fill="#000"/>
<rect x="1029" y="807" width="1" height="3" fill="#000"/>
<rect x="1093" y="807" width="1" height="3" fill="#000"/>
<rect x="1157" y="807" width="1" height="3" fill="#000"/>
<rect x="1221" y="807" width="1" height="3" fill="#000"/>
<rect x="1285" y="807" width="1" height="3" fill="#000"/>
</g>
<text x="4.7" y="819" font-size="9.5" fill="#000" stroke="#000" stroke-width="0.25" textLength="50.3" lengthAdjust="spacingAndGlyphs">14 Apr 2023</text>
<text x="68.7" y="819" font-size="9.5" fill="#000" stroke="#000" stroke-width="0.25" textLength="52.7" lengthAdjust="spacingAndGlyphs">17 Apr 00:00</text>
<text x="132.7" y="819" font-size="9.5" fill="#000" stroke="#000" stroke-width="0.25" textLength="52.7" lengthAdjust="spacingAndGlyphs">17 Apr 16:00</text>
<text x="196.7" y="819" font-size="9.5" fill="#000" stroke="#000" stroke-width="0.25" textLength="52.7" lengthAdjust="spacingAndGlyphs">18 Apr 08:00</text>
<text x="260.7" y="819" font-size="9.5" fill="#000" stroke="#000" stroke-width="0.25" textLength="52.7" lengthAdjust="spacingAndGlyphs">19 Apr 00:00</text>
<text x="324.7" y="819" font-size="9.5" fill="#000" stroke="#000" stroke-width="0.25" textLength="52.7" lengthAdjust="spacingAndGlyphs">19 Apr 16:00</text>
<text x="388.7" y="819" font-size="9.5" fill="#000" stroke="#000" stroke-width="0.25" textLength="52.7" lengthAdjust="spacingAndGlyphs">20 Apr 08:00</text>
<text x="452.7" y="819" font-size="9.5" fill="#000" stroke="#000" stroke-width="0.25" textLength="52.7" lengthAdjust="spacingAndGlyphs">21 Apr 00:00</text>
<text x="516.7" y="819" font-size="9.5" fill="#000" stroke="#000" stroke-width="0.25" textLength="52.7" lengthAdjust="spacingAndGlyphs">21 Apr 16:00</text>
<text x="580.7" y="819" font-size="9.5" fill="#000" stroke="#000" stroke-width="0.25" textLength="52.7" lengthAdjust="spacingAndGlyphs">24 Apr 08:00</text>
<text x="644.7" y="819" font-size="9.5" fill="#000" stroke="#000" stroke-width="0.25" textLength="52.7" lengthAdjust="spacingAndGlyphs">25 Apr 00:00</text>
<text x="708.7" y="819" font-size="9.5" fill="#000" stroke="#000" stroke-width="0.25" textLength="52.7" lengthAdjust="spacingAndGlyphs">25 Apr 16:00</text>
<text x="772.7" y="819" font-size="9.5" fill="#000" stroke="#000" stroke-width="0.25" textLength="52.7" lengthAdjust="spacingAndGlyphs">26 Apr 08:00</text>
<text x="836.7" y="819" font-size="9.5" fill="#000" stroke="#000" stroke-width="0.25" textLength="52.7" lengthAdjust="spacingAndGlyphs">27 Apr 00:00</text>
<text x="900.7" y="819" font-size="9.5" fill="#000" stroke="#000" stroke-width="0.25" textLength="52.7" lengthAdjust="spacingAndGlyphs">27 Apr 16:00</text>
<text x="964.7" y="819" font-size="9.5" fill="#000" stroke="#000" stroke-width="0.25" textLength="52.7" lengthAdjust="spacingAndGlyphs">28 Apr 08:00</text>
<text x="1028.7" y="819" font-size="9.5" fill="#000" stroke="#000" stroke-width="0.25" textLength="52" lengthAdjust="spacingAndGlyphs">1 May 00:00</text>
<text x="1092.7" y="819" font-size="9.5" fill="#000" stroke="#000" stroke-width="0.25" textLength="52" lengthAdjust="spacingAndGlyphs">1 May 16:00</text>
<text x="1156.7" y="819" font-size="9.5" fill="#000" stroke="#000" stroke-width="0.25" textLength="52" lengthAdjust="spacingAndGlyphs">2 May 08:00</text>
<text x="1220.7" y="819" font-size="9.5" fill="#000" stroke="#000" stroke-width="0.25" textLength="52" lengthAdjust="spacingAndGlyphs">3 May 00:00</text>
<text x="1284.7" y="819" font-size="9.5" fill="#000" stroke="#000" stroke-width="0.25" textLength="52" lengthAdjust="spacingAndGlyphs">3 May 16:00</text>
<defs><linearGradient id="gGold" x1="0" y1="0" x2="1" y2="1"><stop offset="0" stop-color="#f7dc3a"/><stop offset="0.6" stop-color="#e0ad18"/><stop offset="1" stop-color="#b07a10"/></linearGradient><linearGradient id="gBlue" x1="0" y1="0" x2="0" y2="1"><stop offset="0" stop-color="#3fa9ff"/><stop offset="1" stop-color="#0a6fe0"/></linearGradient><linearGradient id="gCloud" x1="0" y1="0" x2="0" y2="1"><stop offset="0" stop-color="#ffffff"/><stop offset="1" stop-color="#b8c8e4"/></linearGradient><linearGradient id="gHat" x1="0" y1="0" x2="0" y2="1"><stop offset="0" stop-color="#8fd0f0"/><stop offset="1" stop-color="#2a86c8"/></linearGradient><linearGradient id="gFace" x1="0" y1="0" x2="1" y2="1"><stop offset="0" stop-color="#fff38a"/><stop offset="1" stop-color="#e0a818"/></linearGradient><linearGradient id="gRed" x1="0" y1="0" x2="0" y2="1"><stop offset="0" stop-color="#ea5434"/><stop offset="1" stop-color="#d41c0c"/></linearGradient><linearGradient id="gLens" x1="0" y1="0" x2="0" y2="1"><stop offset="0" stop-color="#eefaff"/><stop offset="1" stop-color="#bfe6f6"/></linearGradient><linearGradient id="gGreen" x1="0" y1="0" x2="0" y2="1"><stop offset="0" stop-color="#6cf06c"/><stop offset="1" stop-color="#04a010"/></linearGradient><linearGradient id="gClock" x1="0" y1="0" x2="0" y2="1"><stop offset="0" stop-color="#2e8cf0"/><stop offset="1" stop-color="#0848a8"/></linearGradient><linearGradient id="gCandle" x1="0" y1="0" x2="1" y2="0"><stop offset="0" stop-color="#20d030"/><stop offset="0.5" stop-color="#90ff98"/><stop offset="1" stop-color="#20d030"/></linearGradient><linearGradient id="gTgreen" x1="0" y1="0" x2="1" y2="1"><stop offset="0" stop-color="#44b02c"/><stop offset="1" stop-color="#1e8a10"/></linearGradient><linearGradient id="gTblue" x1="0" y1="0" x2="1" y2="1"><stop offset="0" stop-color="#3a72e0"/><stop offset="1" stop-color="#0a34b0"/></linearGradient></defs>
<g shape-rendering="crispEdges">
<rect x="204" y="0" width="1" height="25" fill="#a0a0a0"/><rect x="205" y="0" width="1" height="25" fill="#fff"/>
<rect x="208" y="3" width="3" height="1" fill="#a0a0a0"/>
<rect x="208" y="5" width="3" height="1" fill="#a0a0a0"/>
<rect x="208" y="7" width="3" height="1" fill="#a0a0a0"/>
<rect x="208" y="9" width="3" height="1" fill="#a0a0a0"/>
<rect x="208" y="11" width="3" height="1" fill="#a0a0a0"/>
<rect x="208" y="13" width="3" height="1" fill="#a0a0a0"/>
<rect x="208" y="15" width="3" height="1" fill="#a0a0a0"/>
<rect x="208" y="17" width="3" height="1" fill="#a0a0a0"/>
<rect x="208" y="19" width="3" height="1" fill="#a0a0a0"/>
<rect x="208" y="21" width="3" height="1" fill="#a0a0a0"/>
<rect x="242" y="1" width="25" height="22" fill="#f8f8f8"/>
<rect x="242" y="1" width="25" height="1" fill="#a0a0a0"/><rect x="242" y="1" width="1" height="22" fill="#a0a0a0"/>
<rect x="242" y="22" width="25" height="1" fill="#fff"/><rect x="266" y="1" width="1" height="22" fill="#fff"/>
<rect x="299" y="2" width="1" height="22" fill="#a0a0a0"/>
<rect x="389" y="2" width="1" height="22" fill="#a0a0a0"/>
<rect x="394" y="1" width="25" height="22" fill="#f8f8f8"/>
<rect x="394" y="1" width="25" height="1" fill="#a0a0a0"/><rect x="394" y="1" width="1" height="22" fill="#a0a0a0"/>
<rect x="394" y="22" width="25" height="1" fill="#fff"/><rect x="418" y="1" width="1" height="22" fill="#fff"/>
<rect x="422" y="1" width="25" height="22" fill="#f8f8f8"/>
<rect x="422" y="1" width="25" height="1" fill="#a0a0a0"/><rect x="422" y="1" width="1" height="22" fill="#a0a0a0"/>
<rect x="422" y="22" width="25" height="1" fill="#fff"/><rect x="446" y="1" width="1" height="22" fill="#fff"/>
<rect x="451" y="2" width="1" height="22" fill="#a0a0a0"/>
<rect x="572" y="0" width="1" height="25" fill="#a0a0a0"/><rect x="573" y="0" width="1" height="25" fill="#fff"/>
<rect x="576" y="3" width="3" height="1" fill="#a0a0a0"/>
<rect x="576" y="5" width="3" height="1" fill="#a0a0a0"/>
<rect x="576" y="7" width="3" height="1" fill="#a0a0a0"/>
<rect x="576" y="9" width="3" height="1" fill="#a0a0a0"/>
<rect x="576" y="11" width="3" height="1" fill="#a0a0a0"/>
<rect x="576" y="13" width="3" height="1" fill="#a0a0a0"/>
<rect x="576" y="15" width="3" height="1" fill="#a0a0a0"/>
<rect x="576" y="17" width="3" height="1" fill="#a0a0a0"/>
<rect x="576" y="19" width="3" height="1" fill="#a0a0a0"/>
<rect x="576" y="21" width="3" height="1" fill="#a0a0a0"/>
<rect x="582" y="1" width="25" height="22" fill="#f8f8f8"/>
<rect x="582" y="1" width="25" height="1" fill="#a0a0a0"/><rect x="582" y="1" width="1" height="22" fill="#a0a0a0"/>
<rect x="582" y="22" width="25" height="1" fill="#fff"/><rect x="606" y="1" width="1" height="22" fill="#fff"/>
<rect x="639" y="2" width="1" height="22" fill="#a0a0a0"/>
<rect x="878" y="0" width="1" height="25" fill="#a0a0a0"/><rect x="879" y="0" width="1" height="25" fill="#fff"/>
<rect x="882" y="3" width="3" height="1" fill="#a0a0a0"/>
<rect x="882" y="5" width="3" height="1" fill="#a0a0a0"/>
<rect x="882" y="7" width="3" height="1" fill="#a0a0a0"/>
<rect x="882" y="9" width="3" height="1" fill="#a0a0a0"/>
<rect x="882" y="11" width="3" height="1" fill="#a0a0a0"/>
<rect x="882" y="13" width="3" height="1" fill="#a0a0a0"/>
<rect x="882" y="15" width="3" height="1" fill="#a0a0a0"/>
<rect x="882" y="17" width="3" height="1" fill="#a0a0a0"/>
<rect x="882" y="19" width="3" height="1" fill="#a0a0a0"/>
<rect x="882" y="21" width="3" height="1" fill="#a0a0a0"/>
<rect x="1028" y="1" width="25" height="22" fill="#f8f8f8"/>
<rect x="1028" y="1" width="25" height="1" fill="#a0a0a0"/><rect x="1028" y="1" width="1" height="22" fill="#a0a0a0"/>
<rect x="1028" y="22" width="25" height="1" fill="#fff"/><rect x="1052" y="1" width="1" height="22" fill="#fff"/>
<rect x="1139" y="0" width="1" height="25" fill="#a0a0a0"/><rect x="1140" y="0" width="1" height="25" fill="#fff"/>
</g>
<text x="-2.5" y="16.3" font-size="12" fill="#000">新订单</text>
<text x="149" y="16.5" font-size="12" fill="#000" textLength="47.6" lengthAdjust="spacingAndGlyphs">自动交易</text>
<g stroke-linejoin="round"><polygon points="45.2,14.8 53.2,20.9 61.1,14.4 60.2,13 52.6,18.8 45.6,13.6" fill="#b8801a" stroke="#9a6810" stroke-width="0.8"/><polyline points="46.6,15 53,19.6 60.2,13.8" fill="none" stroke="#f1e2b0" stroke-width="1"/><polygon points="51.2,6.1 59.6,13 52.4,19 45.4,14" fill="url(#gGold)" stroke="#a87410" stroke-width="0.8"/><polyline points="50.9,7.3 46.8,13.7" fill="none" stroke="#fdf0a0" stroke-width="1"/></g>
<g><polygon points="75,7 79,5 86,6.2 86,13.5 75,13.5" fill="url(#gBlue)"/><polygon points="75,7 78.2,8.2 78.2,13.5 75,13.5" fill="#1788f0"/><rect x="79.5" y="9" width="5.5" height="1.6" fill="#e4f2ff"/><path d="M75.2,20.6 a3,3 0 0 1 -0.4,-5.9 a3.4,3.4 0 0 1 5.6,-1.4 a3.2,3.2 0 0 1 5.2,1.2 a3,3 0 0 1 0.6,6.1 z" fill="url(#gCloud)" stroke="#6c88bc" stroke-width="0.9"/></g>
<path d="M109,4.6 a8,8 0 0 1 0.3,16 z" fill="#5cb868" opacity="0.38"/><path d="M109,4.6 a8,8 0 0 0 0,16 z" fill="#7c9ce8" opacity="0.16"/>
<g fill="none" stroke-linecap="round"><path d="M109,4.8 a7.8,7.8 0 0 0 -5,13.8" stroke="#88a8e8" stroke-width="1.1"/><path d="M109,7.4 a5.2,5.2 0 0 0 -3.4,9.2" stroke="#5a84dc" stroke-width="1.1"/><path d="M109,4.8 a7.8,7.8 0 0 1 2.5,15.2" stroke="#9ccc9c" stroke-width="1.2"/><path d="M109,7.4 a5.2,5.2 0 0 1 2,10" stroke="#74b878" stroke-width="1.2"/><path d="M109.3,20.5 a8,8 0 0 0 5,-2.6" stroke="#2fa03a" stroke-width="1.6"/><line x1="109.3" y1="12.6" x2="109.3" y2="20.4" stroke="#22a030" stroke-width="1.5"/><circle cx="109" cy="12.4" r="1.7" fill="#2a5cd0" stroke="#7da0e8" stroke-width="0.8"/></g>
<g><path d="M130.5,12 L141.5,11.5 L143.5,15.5 L136.5,20.6 L131.5,17.5 Z" fill="url(#gFace)" stroke="#c89a20" stroke-width="0.7"/><ellipse cx="136.3" cy="10.6" rx="8" ry="2.7" fill="url(#gHat)" stroke="#2f7ab8" stroke-width="0.6"/><ellipse cx="136.2" cy="8" rx="3.7" ry="2.9" fill="#7cc4ec" stroke="#3a8ccc" stroke-width="0.5"/><circle cx="140.5" cy="16.6" r="4.1" fill="url(#gRed)"/><rect x="139.1" y="15.2" width="2.8" height="2.8" fill="#fff"/></g>
<g stroke="#505050" stroke-width="1.3" fill="#505050"><line x1="222.4" y1="8.5" x2="222.4" y2="20.8"/><line x1="220.1" y1="18.4" x2="232.4" y2="18.4"/><polygon points="222.4,7 220.70000000000002,9.6 224.1,9.6" stroke="none"/><polygon points="234.0,18.4 231.4,16.7 231.4,20.1" stroke="none"/></g>
<g stroke="#0a8a0a" stroke-width="1.4" fill="none"><line x1="228.4" y1="8.2" x2="228.4" y2="16.7"/><line x1="226" y1="15.5" x2="228.4" y2="15.5"/><line x1="228.4" y1="9.4" x2="231" y2="9.4"/></g>
<g stroke="#505050" stroke-width="1.3" fill="#505050"><line x1="250.5" y1="8.5" x2="250.5" y2="20.8"/><line x1="248.2" y1="18.4" x2="260.5" y2="18.4"/><polygon points="250.5,7 248.8,9.6 252.2,9.6" stroke="none"/><polygon points="262.1,18.4 259.5,16.7 259.5,20.1" stroke="none"/></g>
<g><line x1="256.5" y1="5.1" x2="256.5" y2="16.7" stroke="#0a8a0a" stroke-width="1.3"/><rect x="254.3" y="7.5" width="4.4" height="7.2" fill="url(#gCandle)" stroke="#0a9a10" stroke-width="0.9"/></g>
<g stroke="#505050" stroke-width="1.3" fill="#505050"><line x1="278.4" y1="8.5" x2="278.4" y2="20.8"/><line x1="276.09999999999997" y1="18.4" x2="288.4" y2="18.4"/><polygon points="278.4,7 276.7,9.6 280.09999999999997,9.6" stroke="none"/><polygon points="290.0,18.4 287.4,16.7 287.4,20.1" stroke="none"/></g>
<path d="M277.3,15.8 C280,14.5 281.5,10.2 283.2,10.3 C285,10.4 286.5,13.6 288.6,14.3" fill="none" stroke="#2a9a2a" stroke-width="1.2"/>
<g><line x1="317.9" y1="15" x2="322.7" y2="19.4" stroke="#9a7410" stroke-width="3.4" stroke-linecap="round"/><line x1="318" y1="15.1" x2="322.6" y2="19.3" stroke="#e8c420" stroke-width="2"/><circle cx="314" cy="10.9" r="5.6" fill="url(#gLens)" stroke="#2a6cc8" stroke-width="1.3"/><line x1="310.8" y1="10.9" x2="317.2" y2="10.9" stroke="#3a84aa" stroke-width="1.9"/><line x1="314" y1="7.7" x2="314" y2="14.1" stroke="#3a84aa" stroke-width="1.9"/></g>
<g><line x1="346.0" y1="15" x2="350.8" y2="19.4" stroke="#9a7410" stroke-width="3.4" stroke-linecap="round"/><line x1="346.1" y1="15.1" x2="350.70000000000005" y2="19.3" stroke="#e8c420" stroke-width="2"/><circle cx="342.1" cy="10.9" r="5.6" fill="url(#gLens)" stroke="#2a6cc8" stroke-width="1.3"/><line x1="338.90000000000003" y1="10.9" x2="345.3" y2="10.9" stroke="#3a84aa" stroke-width="1.9"/></g>
<g><rect x="364" y="5" width="8" height="8" fill="url(#gTgreen)"/><path d="M365.1,8.1 h5.8 v4 h-1.2 v-1.2 h-3.4 v1.2 h-1.2 z" fill="#fff"/><rect x="366.3" y="9" width="3.6" height="0.9" fill="#9ad890"/><rect x="365" y="6" width="1" height="1" fill="#d8f0d8"/><rect x="372" y="5" width="8" height="8" fill="url(#gTblue)"/><path d="M373.1,8.1 h5.8 v4 h-1.2 v-1.2 h-3.4 v1.2 h-1.2 z" fill="#fff"/><rect x="374.3" y="9" width="3.6" height="0.9" fill="#a0b8f0"/><rect x="373" y="6" width="1" height="1" fill="#d8f0d8"/><rect x="364" y="13" width="8" height="8" fill="url(#gTblue)"/><path d="M365.1,16.1 h5.8 v4 h-1.2 v-1.2 h-3.4 v1.2 h-1.2 z" fill="#fff"/><rect x="366.3" y="17" width="3.6" height="0.9" fill="#a0b8f0"/><rect x="365" y="14" width="1" height="1" fill="#d8f0d8"/><rect x="372" y="13" width="8" height="8" fill="url(#gTgreen)"/><path d="M373.1,16.1 h5.8 v4 h-1.2 v-1.2 h-3.4 v1.2 h-1.2 z" fill="#fff"/><rect x="374.3" y="17" width="3.6" height="0.9" fill="#9ad890"/><rect x="373" y="14" width="1" height="1" fill="#d8f0d8"/></g>
<g stroke="#505050" stroke-width="1.3" fill="#505050"><line x1="402.5" y1="8.5" x2="402.5" y2="20.8"/><line x1="400.2" y1="18.4" x2="412.5" y2="18.4"/><polygon points="402.5,7 400.8,9.6 404.2,9.6" stroke="none"/><polygon points="414.1,18.4 411.5,16.7 411.5,20.1" stroke="none"/></g>
<polygon points="407.2,9.2 407.2,15.6 411,12.4" fill="#7ee080" stroke="#1a9a20" stroke-width="1"/>
<g stroke="#505050" stroke-width="1.3" fill="#505050"><line x1="430.4" y1="8.5" x2="430.4" y2="20.8"/><line x1="428.09999999999997" y1="18.4" x2="440.4" y2="18.4"/><polygon points="430.4,7 428.7,9.6 432.09999999999997,9.6" stroke="none"/><polygon points="442.0,18.4 439.4,16.7 439.4,20.1" stroke="none"/></g>
<line x1="436.5" y1="7.1" x2="436.5" y2="16.7" stroke="#1a6fa0" stroke-width="1.3"/>
<g stroke="#d04808" fill="#d04808"><line x1="438" y1="12.4" x2="441.8" y2="12.4" stroke-width="1.2"/><polygon points="437.2,12.4 440,10 439.4,12.4 440,14.8" stroke="none"/></g>
<g><path d="M462.2,5.8 h6.6 l3.4,3.2 v9.4 h-10 z" fill="#fdfdfd" stroke="#9a9a9a" stroke-width="0.9"/><path d="M468.8,5.8 v3.2 h3.4" fill="#e8e8e8" stroke="#9a9a9a" stroke-width="0.7"/><path d="M464.2,10 v6.5 M464.2,10 h1.5" stroke="#8a7a5a" stroke-width="0.8" fill="none"/><path d="M469.3,11.4 h3.8 v3.7 h3.7 v3.8 h-3.7 v3.7 h-3.8 v-3.7 h-3.7 v-3.8 h3.7 z" fill="url(#gGreen)" stroke="#0a8a14" stroke-width="0.8" stroke-linejoin="round"/></g>
<polygon points="482.8,12 488.40000000000003,12 485.6,15" fill="#000"/>
<g><circle cx="507" cy="13" r="7.9" fill="url(#gClock)"/><circle cx="507" cy="12.8" r="5.4" fill="#fafcff" stroke="#8fc0f4" stroke-width="0.5"/><path d="M506.6,9.6 v3.6 h2.6" fill="none" stroke="#222" stroke-width="1.1"/><g stroke="#888" stroke-width="0.6"><line x1="507" y1="8" x2="507" y2="8.8"/><line x1="507" y1="16.8" x2="507" y2="17.6"/><line x1="502.2" y1="12.8" x2="503" y2="12.8"/><line x1="511" y1="12.8" x2="511.8" y2="12.8"/></g><line x1="505.6" y1="15.8" x2="508.2" y2="15.8" stroke="#6aaef0" stroke-width="0.8"/></g>
<polygon points="521.8,12 527.4,12 524.5999999999999,15" fill="#000"/>
<g><rect x="538.5" y="6.3" width="15" height="13.4" fill="#fff" stroke="#3a78d0" stroke-width="1"/><rect x="538" y="5.9" width="16" height="2.6" fill="#4a8ae0"/><rect x="539" y="6.6" width="6" height="0.8" fill="#cfe2fa"/><line x1="538.5" y1="14" x2="553.5" y2="14" stroke="#3a78d0" stroke-width="0.9"/><polyline points="540.2,12.3 542,12.3 543.6,11 545.6,10.4 547.2,11.4 549.2,11.4 550.6,10.4 552,10.4" fill="none" stroke="#a82010" stroke-width="1.1"/><polyline points="541,17.6 542.6,17.2 544,16.8 545.6,17.6 547.2,16.6 548.8,15.4 550,16.2 551.6,17.8" fill="none" stroke="#1a9a2a" stroke-width="1.1"/></g>
<polygon points="560.8,12 566.4,12 563.5999999999999,15" fill="#000"/>
<polygon points="590.2,5.6 590.2,17 592.8,14.8 595.2,20.1 597,19.3 594.6,14 598.2,13.4" fill="#505050"/>
<g stroke="#505050" stroke-width="1.4"><line x1="615" y1="13.4" x2="621" y2="13.4"/><line x1="623.8" y1="13.4" x2="630" y2="13.4"/><line x1="622.4" y1="6" x2="622.4" y2="12"/><line x1="622.4" y1="14.8" x2="622.4" y2="20.8"/></g>
<rect x="622" y="13" width="0.8" height="0.8" fill="#505050"/>
<g stroke="#505050" stroke-width="1.4"><line x1="656.5" y1="7.1" x2="656.5" y2="19.8"/><line x1="679" y1="13.4" x2="691" y2="13.4"/><line x1="706.9" y1="19.7" x2="719" y2="8" stroke-width="1.3"/></g>
<g stroke="#505050" stroke-width="1.1" fill="none"><line x1="733.1" y1="14.3" x2="740.8" y2="7"/><line x1="734.8" y1="19.3" x2="746.7" y2="11"/><polyline points="734.6,16.6 736.4,13 737.2,16 739.4,10.6 740.2,14.4 742.4,8.6 743.2,12.4 744.6,5.6 745.4,11.6" stroke-width="0.9"/></g>
<text x="743.8" y="21.8" font-size="6.5" font-weight="bold" fill="#333">E</text>
<g stroke="#505050" stroke-width="1" stroke-dasharray="1 1"><line x1="762" y1="6.5" x2="775.5" y2="6.5"/><line x1="762" y1="9.5" x2="775.5" y2="9.5"/><line x1="762" y1="13.5" x2="775.5" y2="13.5"/><line x1="762" y1="17.5" x2="771" y2="17.5"/></g>
<text x="772" y="21.8" font-size="6.5" font-weight="bold" fill="#333">F</text>
<text x="792.6" y="17.8" font-size="12.5" font-weight="bold" fill="#505050" textLength="8.4" lengthAdjust="spacingAndGlyphs">A</text>
<rect x="819.5" y="7.1" width="11" height="12.2" fill="none" stroke="#505050" stroke-width="1" stroke-dasharray="1 1"/>
<text x="820.8" y="17.8" font-size="10.5" font-weight="bold" fill="#505050" textLength="8.2" lengthAdjust="spacingAndGlyphs">T</text>
<g fill="#505050"><polygon points="849.4,7 852.8,10.2 851.6,11.4 847.2,11.4 846,10.2"/><polygon points="856.5,20 860,16.8 858.8,15.6 854.2,15.6 853,16.8"/><polyline points="848.4,15 850.2,16.6 854.8,11.6" fill="none" stroke="#505050" stroke-width="1.2"/></g>
<polygon points="866.7,12 872.3000000000001,12 869.5,15" fill="#000"/>
<text x="893.4" y="17" font-size="10" fill="#4a4a4a" stroke="#4a4a4a" stroke-width="0.15" textLength="12.9" lengthAdjust="spacingAndGlyphs">M1</text>
<text x="921.6" y="17" font-size="10" fill="#4a4a4a" stroke="#4a4a4a" stroke-width="0.15" textLength="12.7" lengthAdjust="spacingAndGlyphs">M5</text>
<text x="947.4" y="17" font-size="10" fill="#4a4a4a" stroke="#4a4a4a" stroke-width="0.15" textLength="18" lengthAdjust="spacingAndGlyphs">M15</text>
<text x="975.5" y="17" font-size="10" fill="#4a4a4a" stroke="#4a4a4a" stroke-width="0.15" textLength="17.8" lengthAdjust="spacingAndGlyphs">M30</text>
<text x="1006.6" y="17" font-size="10" fill="#4a4a4a" stroke="#4a4a4a" stroke-width="0.15" textLength="11.8" lengthAdjust="spacingAndGlyphs">H1</text>
<text x="1033.6" y="17" font-size="10" fill="#4a4a4a" stroke="#4a4a4a" stroke-width="0.15" textLength="12.4" lengthAdjust="spacingAndGlyphs">H4</text>
<text x="1062.5" y="17" font-size="10" fill="#4a4a4a" stroke="#4a4a4a" stroke-width="0.15" textLength="11.8" lengthAdjust="spacingAndGlyphs">D1</text>
<text x="1090.4" y="17" font-size="10" fill="#4a4a4a" stroke="#4a4a4a" stroke-width="0.15" textLength="13.9" lengthAdjust="spacingAndGlyphs">W1</text>
<text x="1116.6" y="17" font-size="10" fill="#4a4a4a" stroke="#4a4a4a" stroke-width="0.15" textLength="14.8" lengthAdjust="spacingAndGlyphs">MN</text>
<g><line x1="1606" y1="13.8" x2="1602.2" y2="17.6" stroke="#1e55d0" stroke-width="2.6" stroke-linecap="round"/><circle cx="1609.5" cy="10.6" r="4" fill="#f4f6ff" stroke="#2a5cd0" stroke-width="1.3"/></g>
<g><path d="M1628.4,19 a5.8,4.8 0 1 1 5,1.3 l-3.2,0 l-1.3,1.5 l0,-1.9 z" fill="#dcdce8" stroke="#9a9a9a" stroke-width="0.9"/><circle cx="1640.4" cy="10.6" r="8.1" fill="url(#gRed)"/><text x="1640.4" y="15" font-size="12.5" font-weight="bold" fill="#fff" text-anchor="middle">1</text></g>
</svg></body></html>
